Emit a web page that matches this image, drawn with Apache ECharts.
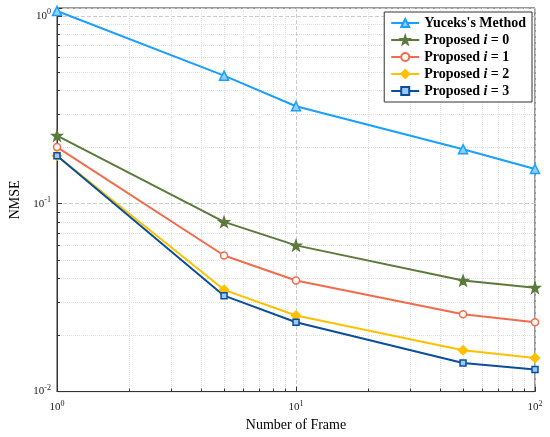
<!DOCTYPE html><html><head><meta charset="utf-8"><script src="https://cdn.jsdelivr.net/npm/echarts@6/dist/echarts.min.js"></script>
<style>html,body{margin:0;padding:0;background:#fff}#c{width:550px;height:437px}</style></head><body><div id="c"></div>
<script>
const frames=[1,5,10,50,100];
const yucek=[1.06,0.48,0.33,0.195,0.153];
const p0=[0.23,0.080,0.060,0.039,0.0357];
const p1=[0.20,0.053,0.039,0.0258,0.0234];
const p2=[0.18,0.0348,0.0254,0.0166,0.0151];
const p3=[0.18,0.0324,0.0234,0.0142,0.0131];
const names=['Yuceks\'s Method','Proposed {i|i} = 0','Proposed {i|i} = 1','Proposed {i|i} = 2','Proposed {i|i} = 3'];
const colors=['#1a9fff','#5b7a3c','#f26b4b','#ffc000','#0a4f9a'];
const symbols=['triangle','path://M0,-10 L2.35,-3.2 L9.5,-3.1 L3.8,1.2 L5.9,8.1 L0,4 L-5.9,8.1 L-3.8,1.2 L-9.5,-3.1 L-2.35,-3.2 Z','circle','diamond','rect'];
const sizes=[9,10,7,9,6];
const fills=['#8fd0ff','#5b7a3c','#fff','#ffc000','#9ec6ff'];
const all=[yucek,p0,p1,p2,p3];
const chart=echarts.init(document.getElementById('c'));
const sup=v=>{const e=Math.round(Math.log10(v));return '{b|10}{s|'+e+'}';};
const rich={b:{fontFamily:'Liberation Serif',fontSize:11,color:'#222'},s:{fontFamily:'Liberation Serif',fontSize:8,color:'#222',verticalAlign:'top',padding:[0,0,8,0]}};
chart.setOption({
 animation:false,
 grid:{left:55,right:15,top:8,bottom:39,show:true,borderColor:'#333',borderWidth:1},
 legend:{orient:'vertical',right:18,top:12,backgroundColor:'#fff',borderColor:'#333',borderWidth:1,padding:[4,6],itemGap:3,itemWidth:28,itemHeight:10,
  textStyle:{fontFamily:'Liberation Serif',fontSize:14,fontWeight:'bold',color:'#000',rich:{i:{fontFamily:'Liberation Serif',fontStyle:'italic',fontSize:14,color:'#000'}}},
  data:names},
 xAxis:{type:'log',logBase:10,min:1,max:100,name:'Number of Frame',nameLocation:'middle',nameGap:24,
  nameTextStyle:{fontFamily:'Liberation Serif',fontSize:14,color:'#000'},
  axisLine:{onZero:false,lineStyle:{color:'#333'}},axisTick:{inside:true,length:5},
  minorTick:{show:true,splitNumber:9,length:3},
  axisLabel:{formatter:sup,rich:rich,margin:8},
  splitLine:{show:true,lineStyle:{color:'#ccc',type:'dashed'}},
  minorSplitLine:{show:true,lineStyle:{color:'#e0e0e0',type:'dotted'}}},
 yAxis:{type:'log',logBase:10,min:0.01,max:1.1,name:'NMSE',nameLocation:'middle',nameGap:35,
  nameTextStyle:{fontFamily:'Liberation Serif',fontSize:14,color:'#000'},
  axisLine:{show:true,lineStyle:{color:'#333'}},axisTick:{inside:true,length:5},
  minorTick:{show:true,splitNumber:9,length:3},
  axisLabel:{formatter:v=>Math.abs(Math.log10(v)-Math.round(Math.log10(v)))<1e-6?sup(v):'',rich:rich,margin:6},
  splitLine:{show:true,lineStyle:{color:'#ccc',type:'dashed'}},
  minorSplitLine:{show:true,lineStyle:{color:'#e0e0e0',type:'dotted'}}},
 series:all.map((d,k)=>({name:names[k],type:'line',data:frames.map((f,j)=>[f,d[j]]),
  symbol:symbols[k],symbolSize:sizes[k],showAllSymbol:true,
  lineStyle:{color:colors[k],width:2},
  itemStyle:{color:fills[k],borderColor:colors[k],borderWidth:1.5}}))
});
</script></body></html>
